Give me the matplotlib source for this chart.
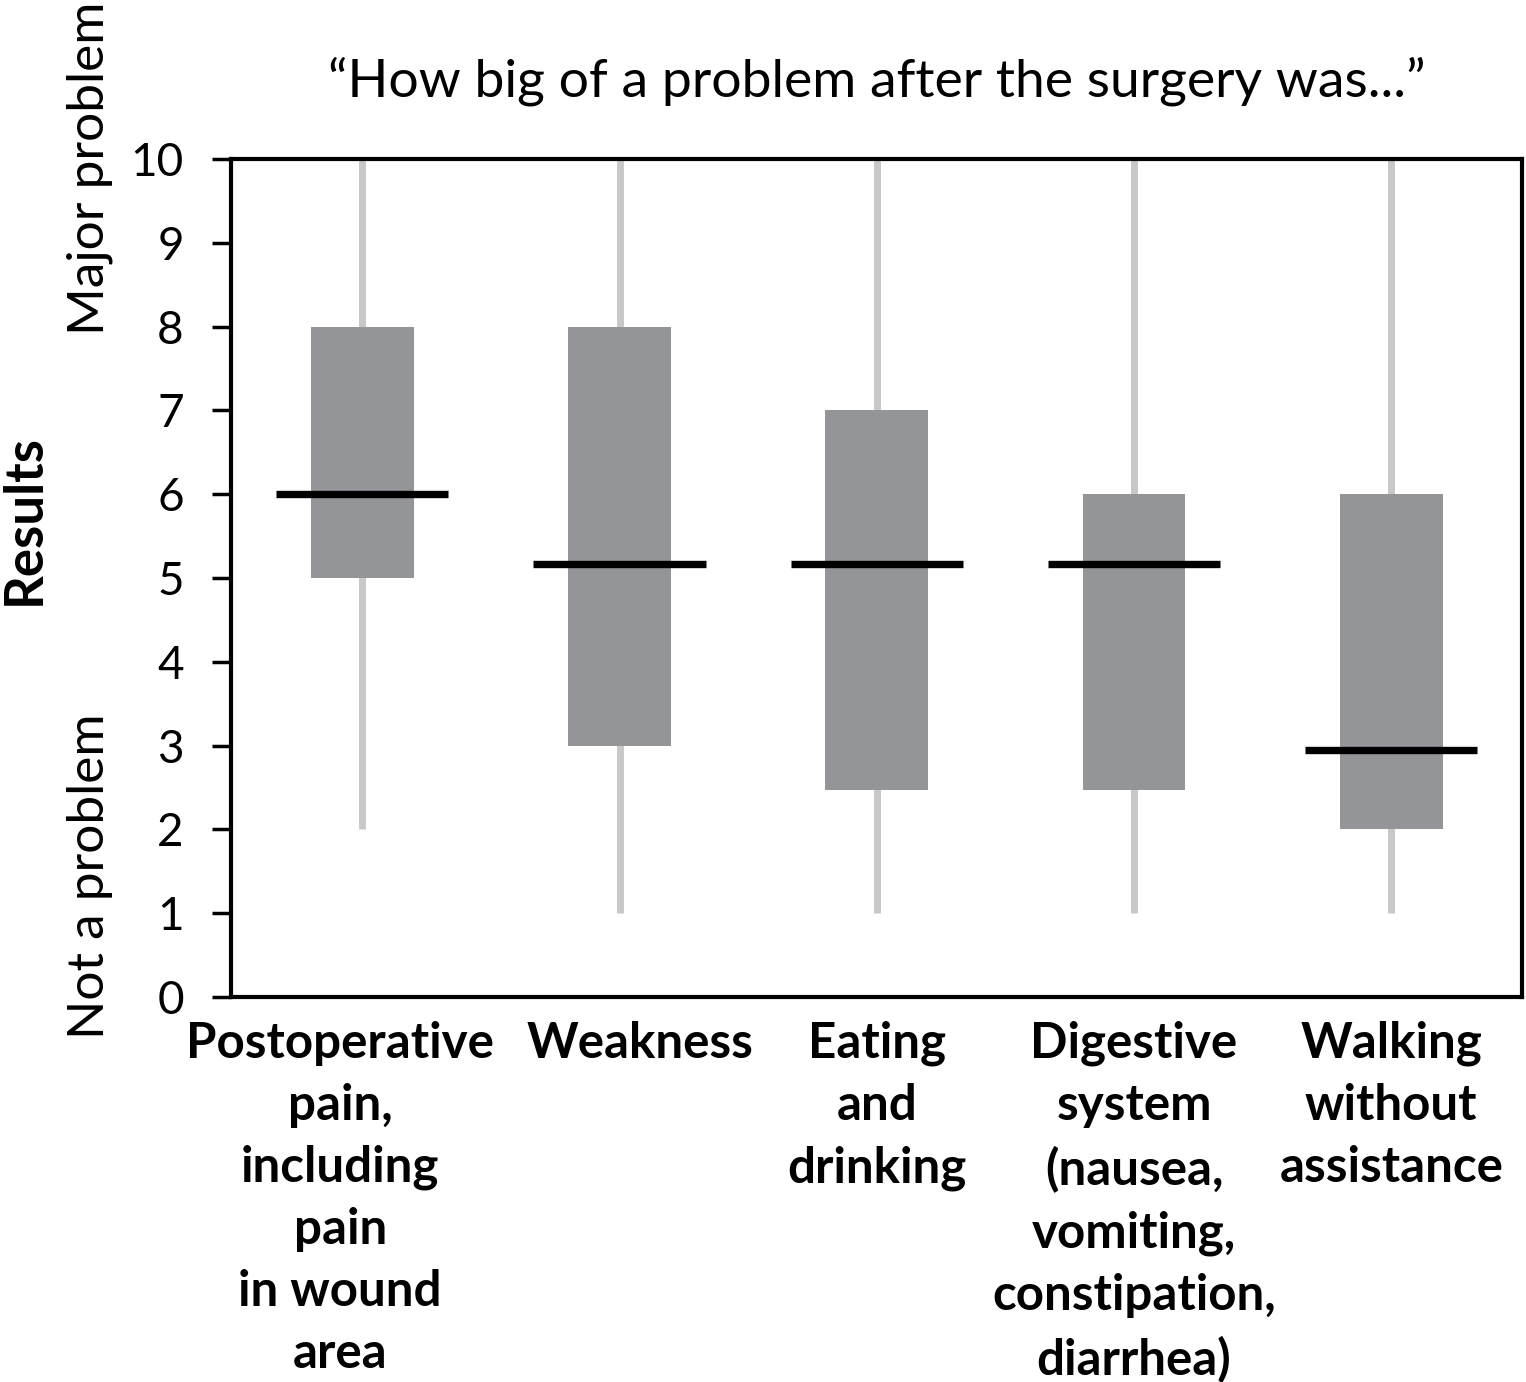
import numpy as np
import matplotlib.pyplot as plt
import matplotlib.transforms as mtransforms

# dados
categorias = [
    "Postoperative\npain,\nincluding\npain\nin wound\narea",
    "Weakness",
    "Eating\nand\ndrinking",
    "Digestive\nsystem\n(nausea,\nvomiting,\nconstipation,\ndiarrhea)",
    "Walking\nwithout\nassistance",
]
minimo = [2, 1, 1, 1, 1]
q1 = [5, 3, 2.47, 2.47, 2]
mediana = [6, 5.17, 5.17, 5.17, 2.95]
q3 = [8, 8, 7, 6, 6]
maximo = [10, 10, 10, 10, 10]

plt.rcParams['font.family'] = ['Lato', 'DejaVu Sans']

fig = plt.figure(figsize=(15.26, 13.82), dpi=100)
ax = fig.add_axes([0.1514, 0.2786, 0.8463, 0.6064])

x = np.arange(len(categorias))

# bigodes
ax.vlines(x, minimo, maximo, color='#c8c8c8', linewidth=5, zorder=1)

# caixas
alturas = np.array(q3) - np.array(q1)
ax.bar(x, alturas, bottom=q1, width=0.4, color='#949599', zorder=2)

# medianas
ax.hlines(mediana, x - 0.335, x + 0.335, color='black', linewidth=5.3, zorder=3)

# =====================================
# EIXOS
# =====================================

ax.set_xlim(-0.51, 4.51)
ax.set_ylim(0, 10)
ax.set_yticks(range(0, 11))
ax.tick_params(axis='y', labelsize=33, length=14, width=2.5, pad=20)
ax.tick_params(axis='x', length=0, pad=17)
ax.set_xticks(x)
ax.set_xticklabels(categorias, fontsize=35.5, fontweight='bold', linespacing=1.46,
                   va='top')

# deslocar os dois primeiros rótulos
desloc = [-22, 21]
for lab, dx in zip(ax.get_xticklabels()[:2], desloc):
    lab.set_transform(lab.get_transform() +
                      mtransforms.ScaledTranslation(dx / 100, 0, fig.dpi_scale_trans))

for s in ax.spines.values():
    s.set_linewidth(3)

ax.set_title("\u201cHow big of a problem after the surgery was...\u201d",
             fontsize=38.5, fontweight='normal', pad=45)

fig.text(0.016, 0.624, "Results", rotation=90, fontsize=38, fontweight='bold',
         ha='center', va='center')
fig.text(0.059, 0.878, "Major problem", rotation=90, fontsize=37, fontweight='normal',
         ha='center', va='center')
fig.text(0.059, 0.366, "Not a problem", rotation=90, fontsize=37, fontweight='normal',
         ha='center', va='center')

plt.savefig("out.png", dpi=100)
